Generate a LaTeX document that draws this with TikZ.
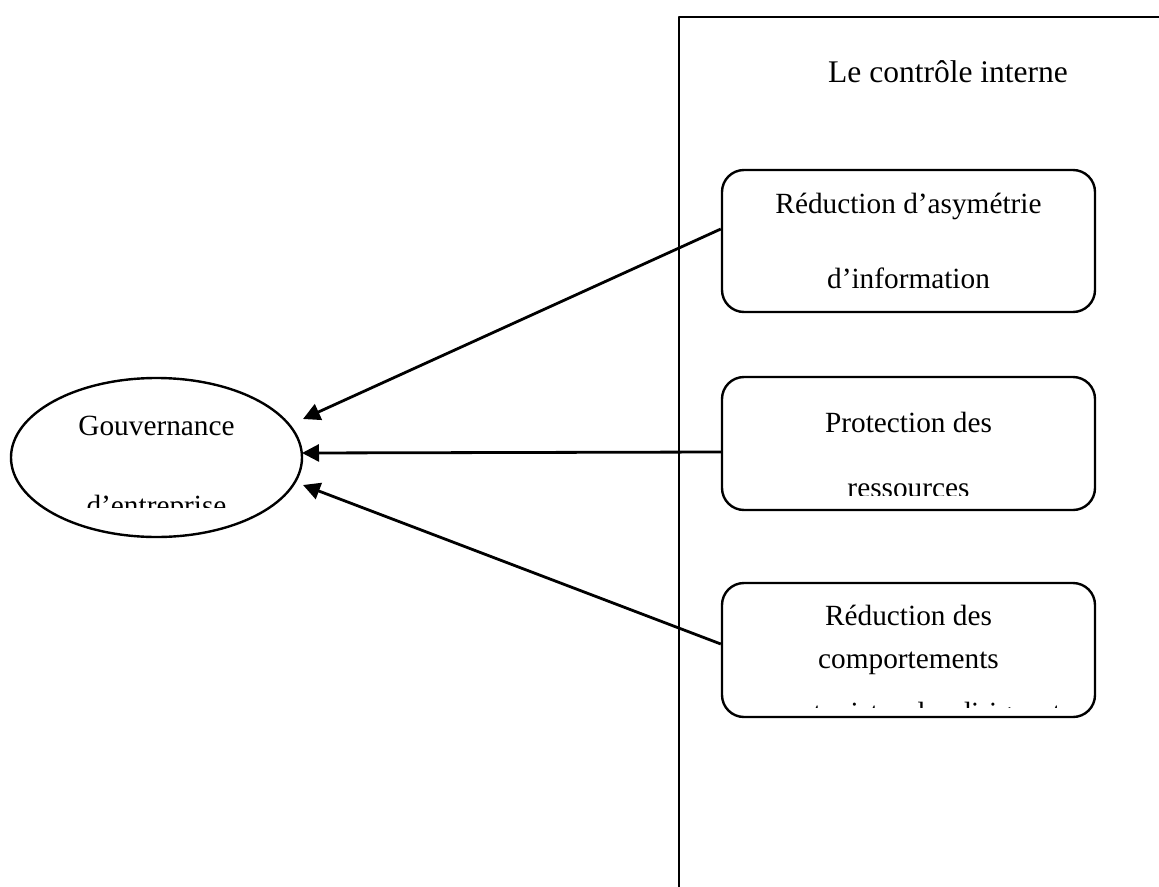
\documentclass[tikz,border=0pt]{standalone}
\usepackage{fontspec}
\setmainfont{Liberation Serif}
\usetikzlibrary{shapes.geometric,arrows.meta}
\begin{document}
\begin{tikzpicture}[x=1pt,y=-1pt,
  line join=round,
  txt/.style={anchor=base,inner sep=0pt,font=\fontsize{29.3}{30}\selectfont},
  ttl/.style={anchor=base,inner sep=0pt,font=\fontsize{31.5}{32}\selectfont},
  boxshape/.style={draw,line width=2.4pt,rounded corners=22pt,minimum width=373pt,inner sep=0pt},
  oval/.style={draw,ellipse,line width=2.4pt,minimum width=291pt,minimum height=159pt,inner sep=0pt},
  link/.style={line width=2.8pt,-{Triangle[length=17pt,width=17pt]}}]
  \useasboundingbox (0,0) rectangle (1159,886);
  % frame of the internal control block
  \draw[line width=2.4pt] (679,887) -- (679,17) -- (1160,17);
  \node[ttl] (title) at (948,82) {Le contrôle interne};

  % governance ellipse
  \node[oval] (gov) at (156.5,457.5) {};
  \begin{scope}
    \clip (0,300) rectangle (679,507);
    \node[txt] (govA) at (156.5,435) {Gouvernance};
    \node[txt] (govB) at (156.5,515) {d’entreprise};
  \end{scope}

  % three boxes
  \node[boxshape,minimum height=142pt] (b1) at (908.5,241) {};
  \node[txt] (b1a) at (908.5,213) {Réduction d’asymétrie};
  \node[txt] (b1b) at (908.5,288) {d’information};

  \node[boxshape,minimum height=133pt] (b2) at (908.5,443.5) {};
  \node[txt] (b2a) at (908.5,432) {Protection des};
  \begin{scope}
    \clip (700,440) rectangle (1120,495);
    \node[txt] (b2b) at (908.5,497) {ressources};
  \end{scope}

  \node[boxshape,minimum height=134pt] (b3) at (908.5,650) {};
  \node[txt] (b3a) at (908.5,625) {Réduction des};
  \node[txt] (b3b) at (908.5,668) {comportements};
  \begin{scope}
    \clip (700,680) rectangle (1120,707);
    \node[txt] (b3c) at (908.5,722) {opportunistes des dirigeants};
  \end{scope}

  % connector ends
  \coordinate (s1) at (b1.west |- 0,229);
  \coordinate (s2) at (b2.west |- 0,452);
  \coordinate (s3) at (b3.west |- 0,644);
  \coordinate (e1) at (303,419);
  \coordinate (e2) at (302,453);
  \coordinate (e3) at (303,485);
  \draw[link] (s1) -- (e1);
  \draw[link] (s2) -- (e2);
  \draw[link] (s3) -- (e3);
\end{tikzpicture}
\end{document}
